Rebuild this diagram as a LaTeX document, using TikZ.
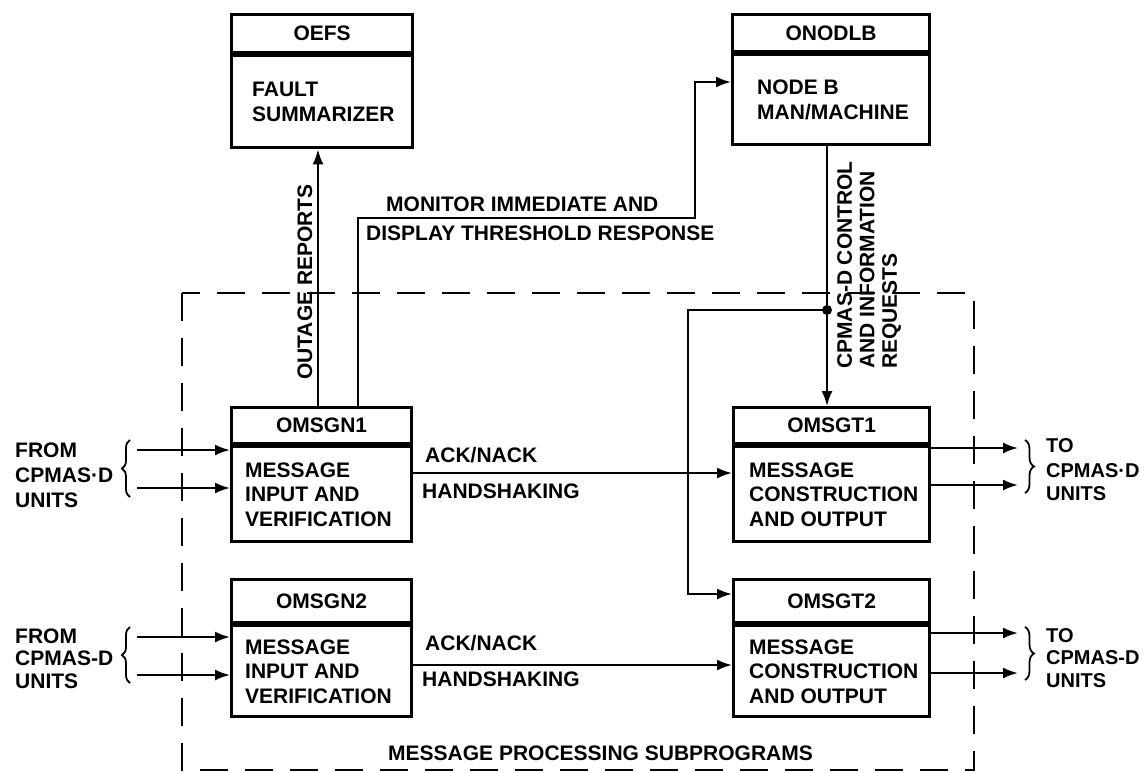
\documentclass[tikz,border=0pt]{standalone}
\usepackage{fontspec}
\setmainfont{Liberation Sans}
\usetikzlibrary{arrows.meta,decorations.pathreplacing,calc}

\begin{document}
\begin{tikzpicture}[x=1pt,y=-1pt,
  lbl/.style={font=\bfseries\fontsize{21}{24.5}\selectfont, inner sep=0pt},
  lblr/.style={font=\bfseries\fontsize{21}{22.5}\selectfont, inner sep=0pt},
  txt/.style={lbl, anchor=base west},
  txts/.style={txt, font=\bfseries\fontsize{20}{24}\selectfont},
  frame/.style={draw, line width=3.2pt, inner sep=0pt, anchor=north west},
  hdr/.style={frame, lbl},
  conn/.style={line width=2.2pt},
  arr/.style={conn, -{Latex[length=15pt,width=11pt]}},
  bracepath/.style={line width=1.8pt, decorate, decoration={brace, amplitude=#1}},
  boundary/.style={line width=2pt, dash pattern=on 28pt off 17pt}]

\fill[white] (0,0) rectangle (1145,772);
\useasboundingbox (0,0) rectangle (1145,772);

% boundary of the message processing subprograms
\draw[boundary] (182,293) rectangle (974,770);
\node[txt] (mpsl) at (388,760) {MESSAGE PROCESSING SUBPROGRAMS};

% ---- program boxes: header + body ----
\node[hdr, minimum width=181pt, minimum height=38pt] (oefs) at (230,13) {OEFS};
\node[frame, minimum width=181pt, minimum height=92pt] (oefsb) at (oefs.south west) {};
\node[lbl, align=left, anchor=west] (oefst) at ([xshift=22pt]oefsb.west) {FAULT\\SUMMARIZER};

\node[hdr, minimum width=197pt, minimum height=37pt] (onodlb) at (731,13) {ONODLB};
\node[frame, minimum width=197pt, minimum height=90pt] (onodlbb) at (onodlb.south west) {};
\node[lbl, align=left, anchor=west] (onodlbt) at ([xshift=26pt]onodlbb.west) {NODE B\\MAN/MACHINE};

\node[hdr, minimum width=180pt, minimum height=36pt] (omsgn1) at (230,406) {OMSGN1};
\node[frame, minimum width=180pt, minimum height=95pt] (omsgn1b) at (omsgn1.south west) {};
\node[lbl, align=left, anchor=west] (omsgn1t) at ([xshift=15pt]omsgn1b.west) {MESSAGE\\INPUT AND\\VERIFICATION};

\node[hdr, minimum width=180pt, minimum height=43pt] (omsgn2) at (230,578) {OMSGN2};
\node[frame, minimum width=180pt, minimum height=91pt] (omsgn2b) at (omsgn2.south west) {};
\node[lbl, align=left, anchor=west] (omsgn2t) at ([xshift=15pt]omsgn2b.west) {MESSAGE\\INPUT AND\\VERIFICATION};

\node[hdr, minimum width=196pt, minimum height=36pt] (omsgt1) at (732,406) {OMSGT1};
\node[frame, minimum width=196pt, minimum height=95pt] (omsgt1b) at (omsgt1.south west) {};
\node[lbl, align=left, anchor=west] (omsgt1t) at ([xshift=17pt]omsgt1b.west) {MESSAGE\\CONSTRUCTION\\AND OUTPUT};

\node[hdr, minimum width=196pt, minimum height=43pt] (omsgt2) at (732,578) {OMSGT2};
\node[frame, minimum width=196pt, minimum height=91pt] (omsgt2b) at (omsgt2.south west) {};
\node[lbl, align=left, anchor=west] (omsgt2t) at ([xshift=17pt]omsgt2b.west) {MESSAGE\\CONSTRUCTION\\AND OUTPUT};

% ---- outage reports to the fault summarizer ----
\coordinate (outx) at (318,0);
\draw[arr] (outx |- omsgn1.north) -- (outx |- oefsb.south);
\node[lbl, rotate=90] (outlbl) at (305,282) {OUTAGE REPORTS};

% ---- monitor / display responses to node B ----
\coordinate (monA) at (358,218);
\coordinate (monB) at (695,218);
\coordinate (monC) at (695,82);
\draw[arr] (monA |- omsgn1.north) -- (monA) -- (monB) -- (monC) -- (monC -| onodlbb.west);
\node[txt] (mon1) at (386,211) {MONITOR IMMEDIATE AND};
\node[txt] (mon2) at (366,240) {DISPLAY THRESHOLD RESPONSE};

% ---- control and information requests ----
\coordinate (ctlx) at (827,0);
\draw[arr] (ctlx |- onodlbb.south) -- (ctlx |- omsgt1.north);
\coordinate (jn) at (827,310);
\coordinate (brL) at (688,310);
\draw[arr] (jn) -- (brL) |- ($(omsgt2.north west)+(0,16)$);
\fill (jn) circle[radius=5pt];
\node[lblr, rotate=90, align=left, anchor=north west] (ctl) at (837,369) {CPMAS-D CONTROL\\AND INFORMATION\\REQUESTS};

% ---- handshaking between input and output ----
\coordinate (ack1) at (0,473);
\draw[arr] (omsgn1b.east |- ack1) -- (omsgt1b.west |- ack1);
\node[txt] (ack1t) at (425,462) {ACK/NACK};
\node[txt] (hs1t) at (422,498) {HANDSHAKING};
\coordinate (ack2) at (0,665);
\draw[arr] (omsgn2b.east |- ack2) -- (omsgt2b.west |- ack2);
\node[txt] (ack2t) at (425,650) {ACK/NACK};
\node[txt] (hs2t) at (422,686) {HANDSHAKING};

% ---- inputs from the units ----
\coordinate (i1a) at (137,450);
\coordinate (i1b) at (137,488);
\coordinate (i2a) at (137,637);
\coordinate (i2b) at (137,675);
\draw[arr] (i1a) -- (omsgn1b.west |- i1a);
\draw[arr] (i1b) -- (omsgn1b.west |- i1b);
\draw[arr] (i2a) -- (omsgn2b.west |- i2a);
\draw[arr] (i2b) -- (omsgn2b.west |- i2b);
\draw[bracepath=8pt] (130,497) -- (130,440);
\draw[bracepath=8pt] (130,683) -- (130,627);
\node[txt] (f1a) at (15,457) {FROM};
\node[txt] (f1b) at (15,482) {CPMAS·D};
\node[txt] (f1c) at (15,507) {UNITS};
\node[txt] (f2a) at (15,643) {FROM};
\node[txt] (f2b) at (15,665) {CPMAS-D};
\node[txt] (f2c) at (15,688) {UNITS};

% ---- outputs to the units ----
\coordinate (o1a) at (1018,448);
\coordinate (o1b) at (1018,485);
\coordinate (o2a) at (1018,633);
\coordinate (o2b) at (1018,673);
\draw[arr] (omsgt1b.east |- o1a) -- (o1a);
\draw[arr] (omsgt1b.east |- o1b) -- (o1b);
\draw[arr] (omsgt2b.east |- o2a) -- (o2a);
\draw[arr] (omsgt2b.east |- o2b) -- (o2b);
\draw[bracepath=9pt] (1025,440) -- (1025,493);
\draw[bracepath=9pt] (1025,627) -- (1025,680);
\node[txts] (t1a) at (1046,452) {TO};
\node[txts] (t1b) at (1046,477) {CPMAS·D};
\node[txts] (t1c) at (1046,500) {UNITS};
\node[txts] (t2a) at (1046,642) {TO};
\node[txts] (t2b) at (1046,664) {CPMAS-D};
\node[txts] (t2c) at (1046,687) {UNITS};
\end{tikzpicture}
\end{document}
